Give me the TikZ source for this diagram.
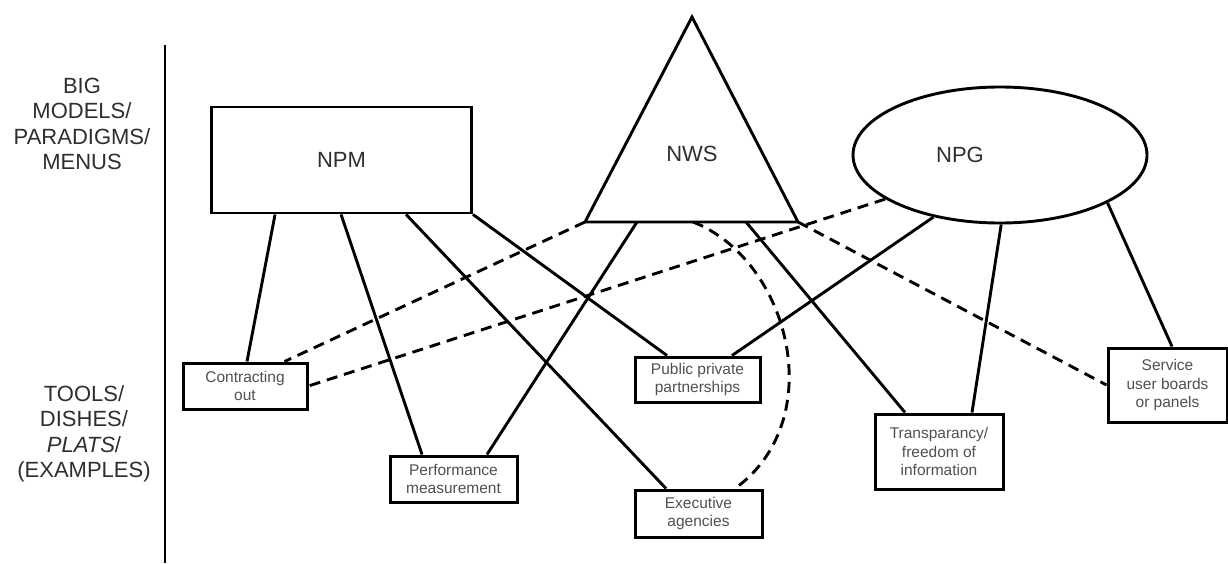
\documentclass[tikz,border=0pt]{standalone}
\usepackage{fontspec}
\setmainfont{Liberation Sans}
\usetikzlibrary{shapes.geometric,calc}
\definecolor{labelgray}{HTML}{2E2E2E}
\definecolor{boxtext}{HTML}{505050}
\begin{document}
\begin{tikzpicture}[x=1pt,y=-1pt,
  conn/.style={line width=2.9pt,black},
  dconn/.style={line width=2.9pt,black,dash pattern=on 11pt off 7pt},
  toolbox/.style={draw,line width=3pt,rectangle,inner sep=0pt,align=center,
    text=boxtext,font=\fontsize{15.5}{18.5}\selectfont},
  bigshape/.style={draw,line width=2.9pt,inner sep=0pt,text=labelgray,
    font=\fontsize{22}{25}\selectfont},
  sidelabel/.style={align=center,text=labelgray,font=\fontsize{22}{25.5}\selectfont}]
\useasboundingbox (0,0) rectangle (1228,563);
% axis
\coordinate (axtop) at (165,45);
\coordinate (axbot) at (165,563);
\draw[line width=2.9pt] (axtop) -- (axbot);
% side labels
\node[sidelabel] (biglab) at (82,124) {BIG\\MODELS/\\PARADIGMS/\\MENUS};
\node[sidelabel] (toollab) at (84,434) {TOOLS/\\DISHES/\\\textit{PLATS}/\\(EXAMPLES)};
% big models
\node[bigshape,rectangle,minimum width=260pt,minimum height=106pt] (npm) at (341.5,160) {NPM};
\node[bigshape,ellipse,minimum width=294pt,minimum height=136pt] (npg) at (1000,155) {};
\node[text=labelgray,font=\fontsize{22}{25}\selectfont] (npgtext) at (960,155) {NPG};
\coordinate (nwsT) at (692,17);
\coordinate (nwsL) at (585,222);
\coordinate (nwsR) at (798,222);
\draw[line width=2.9pt,line join=miter] (nwsT) -- (nwsR) -- (nwsL) -- cycle;
\node[text=labelgray,font=\fontsize{22}{25}\selectfont] (nws) at (692,154) {NWS};
% tools
\node[toolbox,minimum width=124pt,minimum height=46pt] (cont) at (245,386) {Contracting\\out};
\node[toolbox,minimum width=127pt,minimum height=46pt] (perf) at (453.5,479) {Performance\\measurement};
\node[toolbox,minimum width=127pt,minimum height=47pt] (exec) at (698.5,513.5) {Executive\\agencies};
\node[toolbox,minimum width=125pt,minimum height=45pt] (ppp) at (697.5,379.5) {Public private\\partnerships};
\node[toolbox,minimum width=128pt,minimum height=75pt] (trans) at (939,451.5) {Transparancy/\\freedom of\\information};
\node[toolbox,minimum width=119pt,minimum height=74pt] (serv) at (1167.5,385) {Service\\user boards\\or panels};
% NPM links
\draw[conn] ($(npm.south west)+(65,0)$) -- ($(cont.north)+(2,0)$);
\draw[conn] ($(npm.south west)+(131,0)$) -- ($(perf.north)+(-31.5,0)$);
\draw[conn] ($(npm.south west)+(196,0)$) -- ($(exec.north)+(-32.5,0)$);
\draw[conn] (npm.south east) -- ($(ppp.north)+(-30.5,0)$);
% NWS links
\draw[conn] ($(nwsL)!0.244!(nwsR)$) -- ($(perf.north)+(33.5,0)$);
\draw[conn] ($(nwsL)!0.756!(nwsR)$) -- ($(trans.north)+(-34,0)$);
\draw[dconn] ($(nwsL)!0.507!(nwsR)$) .. controls (790,260) and (830,420) .. ($(exec.north)+(36.5,0)$);
\draw[dconn] (nwsL) -- ($(cont.north east)+(-24,0)$);
\draw[dconn] (nwsR) -- (serv.west);
% NPG links
\draw[conn] (npg.-137) -- ($(ppp.north)+(34.5,0)$);
\draw[conn] (npg.-89) -- ($(trans.north)+(33,0)$);
\draw[conn] (npg.-24) -- ($(serv.north)+(4.5,0)$);
\draw[dconn] (npg.-159) -- (cont.east);
\end{tikzpicture}
\end{document}
